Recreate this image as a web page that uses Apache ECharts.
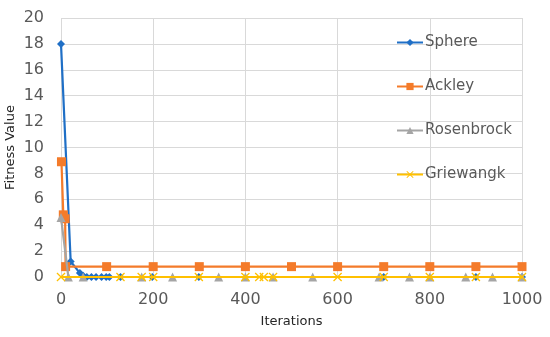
<!DOCTYPE html>
<html><head><meta charset="utf-8">
<script src="https://cdn.jsdelivr.net/npm/echarts@6/dist/echarts.min.js"></script>
<style>html,body{margin:0;padding:0;background:#fff}#c{width:550px;height:337px}</style>
</head><body><div id="c"></div>
<script>
var sphere = [[0,18],[21,1.2],[41,0.3],[48,0.1],[56,0],[66,0],[76,0],[88,0],[98,0],[105,0],[129,0],[198,0],[299,0],[700,0],[900,0],[1000,0]];
var ackley = [[1,8.9],[5,4.8],[9,4.5],[10,0.8],[99,0.8],[200,0.8],[300,0.8],[400,0.8],[500,0.8],[600,0.8],[700,0.8],[800,0.8],[900,0.8],[1000,0.8]];
var rosenbrock = [[0,4.6],[16,0],[48,0],[175,0],[242,0],[342,0],[400,0],[460,0],[546,0],[690,0],[756,0],[800,0],[878,0],[936,0],[1000,0]];
var griewangk = [[0,0],[129,0],[175,0],[200,0],[299,0],[400,0],[430,0],[440,0],[460,0],[600,0],[700,0],[800,0],[900,0],[1000,0]];
var seriesNames = ['Sphere','Ackley','Rosenbrock','Griewangk'];
var xTicks = [0,200,400,600,800,1000];
var yTicks = [0,2,4,6,8,10,12,14,16,18,20];

var colors = ['#1F6FC6','#F47B2A','#A5A5A5','#FFC000'];
var xPath = 'path://M0,1L1,0L5,4L9,0L10,1L6,5L10,9L9,10L5,6L1,10L0,9L4,5Z';
var symbols = ['diamond','rect','triangle',xPath];
var sizes = [8,9,9,9];
var datas = [sphere, ackley, rosenbrock, griewangk];
var chart = echarts.init(document.getElementById('c'));
chart.setOption({
  animation:false,
  color:colors,
  grid:{left:61,right:28,top:18,bottom:60,containLabel:false,outerBoundsMode:'none'},
  legend:{
    orient:'vertical', left:391, top:30, itemGap:29, itemWidth:26, itemHeight:9,
    textStyle:{fontFamily:'DejaVu Sans',fontSize:15,color:'#595959',padding:[0,0,0,-3]},
    data:seriesNames
  },
  xAxis:{type:'value',min:xTicks[0],max:xTicks[xTicks.length-1],interval:200,
    name:'Iterations',nameLocation:'middle',nameGap:38,nameMoveOverlap:false,
    nameTextStyle:{fontFamily:'DejaVu Sans',fontSize:13,color:'#262626'},
    axisLine:{show:false},axisTick:{show:false},
    axisLabel:{fontFamily:'DejaVu Sans',fontSize:16,color:'#595959',margin:15,formatter:function(v){return String(v);}},
    splitLine:{lineStyle:{color:'#D9D9D9'}}},
  yAxis:{type:'value',min:yTicks[0],max:yTicks[yTicks.length-1],interval:2,
    name:'Fitness Value',nameLocation:'middle',nameGap:44,nameMoveOverlap:false,
    nameTextStyle:{fontFamily:'DejaVu Sans',fontSize:13,color:'#262626'},
    axisLine:{show:false},axisTick:{show:false},
    axisLabel:{fontFamily:'DejaVu Sans',fontSize:16,color:'#595959',margin:17,formatter:function(v){return String(v);}},
    splitLine:{lineStyle:{color:'#D9D9D9'}}},
  series:seriesNames.map(function(n,i){
    return {name:n,type:'line',data:datas[i],symbol:symbols[i],symbolSize:sizes[i],
      showAllSymbol:true,lineStyle:{width:2.2,color:colors[i]},itemStyle:{color:colors[i]},z:2+i};
  })
});
</script></body></html>
